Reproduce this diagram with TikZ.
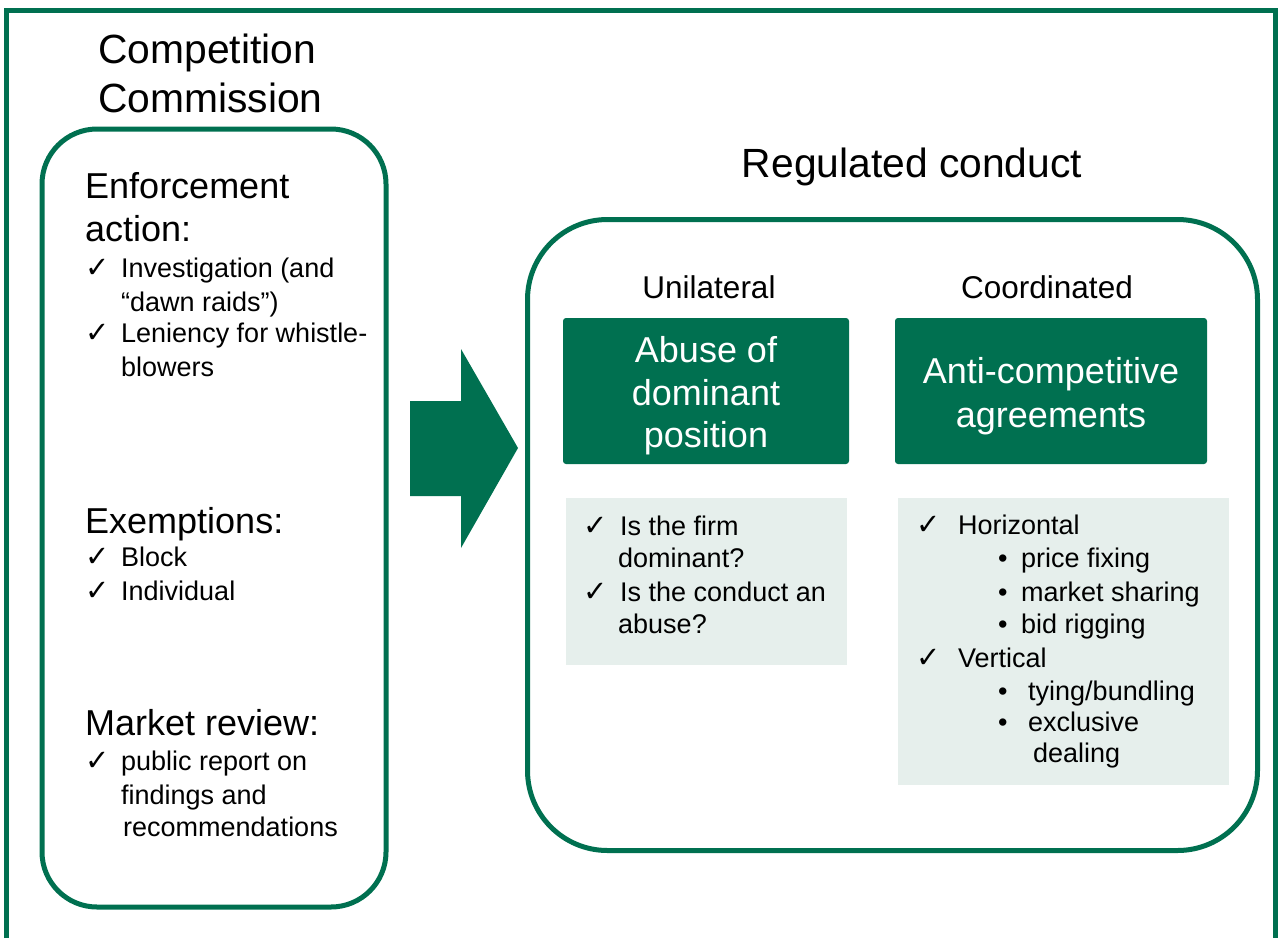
\documentclass[tikz,border=0pt]{standalone}
\usepackage{fontspec}
\setmainfont{Liberation Sans}
\newfontfamily\symbfont{DejaVu Sans}
\definecolor{ccgreen}{RGB}{0,112,80}
\definecolor{ccpale}{RGB}{230,239,236}

\begin{document}
\begin{tikzpicture}[x=1pt, y=-1pt,
    panel/.style={draw=ccgreen, line width=5pt, rounded corners=#1, inner sep=0},
    headbox/.style={fill=ccgreen, rounded corners=3pt, inner sep=0},
    notebox/.style={fill=ccpale, inner sep=0},
    txt/.style={inner sep=0, anchor=base west},
    title/.style={txt, font=\fontsize{40.8}{48}\selectfont},
    heading/.style={txt, font=\fontsize{36}{43}\selectfont},
    item/.style={txt, font=\fontsize{27}{33}\selectfont},
    ritem/.style={txt, font=\fontsize{27}{33}\selectfont},
    chk/.style={txt, font=\symbfont\fontsize{29}{32}\selectfont},
    side/.style={inner sep=0, anchor=base, font=\fontsize{31.5}{36}\selectfont},
    boxtext/.style={inner sep=0, anchor=base, text=white, font=\fontsize{36}{43}\selectfont}]
  \useasboundingbox (0,0) rectangle (1280,938);

  % outer frame, open at the bottom
  \draw[ccgreen, line width=4.5pt] (6.5,938) -- (6.5,10.5) -- (1275.5,10.5) -- (1275.5,938);

  % left column
  \node[title] (t1) at (98,63) {Competition};
  \node[title] (t2) at (98,112) {Commission};
  \node[panel=55, minimum width=344, minimum height=778] (cc) at (214,518) {};

  \node[heading] (enf1) at (85,198) {Enforcement};
  \node[heading] (enf2) at (85,241) {action:};
  \node[chk] (ck1) at (85,277) {✓};
  \node[item] (inv1) at (121,277) {Investigation (and};
  \node[item] (inv2) at (121,311) {“dawn raids”)};
  \node[chk] (ck2) at (85,342) {✓};
  \node[item] (len1) at (121,342) {Leniency for whistle-};
  \node[item] (len2) at (121,376) {blowers};

  \node[heading] (exm) at (85,533) {Exemptions:};
  \node[chk] (ck3) at (85,566) {✓};
  \node[item] (blk) at (121,566) {Block};
  \node[chk] (ck4) at (85,600) {✓};
  \node[item] (ind) at (121,600) {Individual};

  \node[heading] (mkt) at (85,735) {Market review:};
  \node[chk] (ck5) at (85,770) {✓};
  \node[item] (rep1) at (121,770) {public report on};
  \node[item] (rep2) at (121,804) {findings and};
  \node[item] (rep3) at (123,836) {recommendations};

  % big arrow
  \fill[ccgreen] (410,401) -- (461,401) -- (461,349) -- (518,448) -- (461,548)
    -- (461,496) -- (410,496) -- cycle;

  % right column
  \node[title, anchor=base] (rc-t) at (912,177) {Regulated conduct};
  \node[panel=80, minimum width=730, minimum height=631] (rc) at (892.5,535) {};
  \node[side] (uni) at (709,298) {Unilateral};
  \node[side] (coo) at (1047,298) {Coordinated};

  \node[headbox, minimum width=286, minimum height=146] (adp) at (706,391) {};
  \node[boxtext] (adp1) at (706,362) {Abuse of};
  \node[boxtext] (adp2) at (706,405) {dominant};
  \node[boxtext] (adp3) at (706,447) {position};
  \node[headbox, minimum width=312, minimum height=146] (aca) at (1051,391) {};
  \node[boxtext] (aca1) at (1051,383) {Anti-competitive};
  \node[boxtext] (aca2) at (1051,427) {agreements};

  \node[notebox, minimum width=281, minimum height=167] (q) at (706.5,581.5) {};
  \node[chk] (ck6) at (583,535) {✓};
  \node[ritem] (q1) at (620,535) {Is the firm};
  \node[ritem] (q2) at (618,567) {dominant?};
  \node[chk] (ck7) at (583,601) {✓};
  \node[ritem] (q3) at (620,601) {Is the conduct an};
  \node[ritem] (q4) at (618,633) {abuse?};

  \node[notebox, minimum width=331, minimum height=287] (ex) at (1063.5,641.5) {};
  \node[chk] (ck8) at (916,534) {✓};
  \node[ritem] (hor) at (958,534) {Horizontal};
  \node[ritem] (b1) at (998,567) {•};
  \node[ritem] (h1) at (1021,567) {price fixing};
  \node[ritem] (b2) at (998,601) {•};
  \node[ritem] (h2) at (1021,601) {market sharing};
  \node[ritem] (b3) at (998,633) {•};
  \node[ritem] (h3) at (1021,633) {bid rigging};
  \node[chk] (ck9) at (916,667) {✓};
  \node[ritem] (ver) at (958,667) {Vertical};
  \node[ritem] (b4) at (998,700) {•};
  \node[ritem] (v1) at (1028,700) {tying/bundling};
  \node[ritem] (b5) at (998,731) {•};
  \node[ritem] (v2) at (1028,731) {exclusive};
  \node[ritem] (v3) at (1033,762) {dealing};
\end{tikzpicture}
\end{document}
